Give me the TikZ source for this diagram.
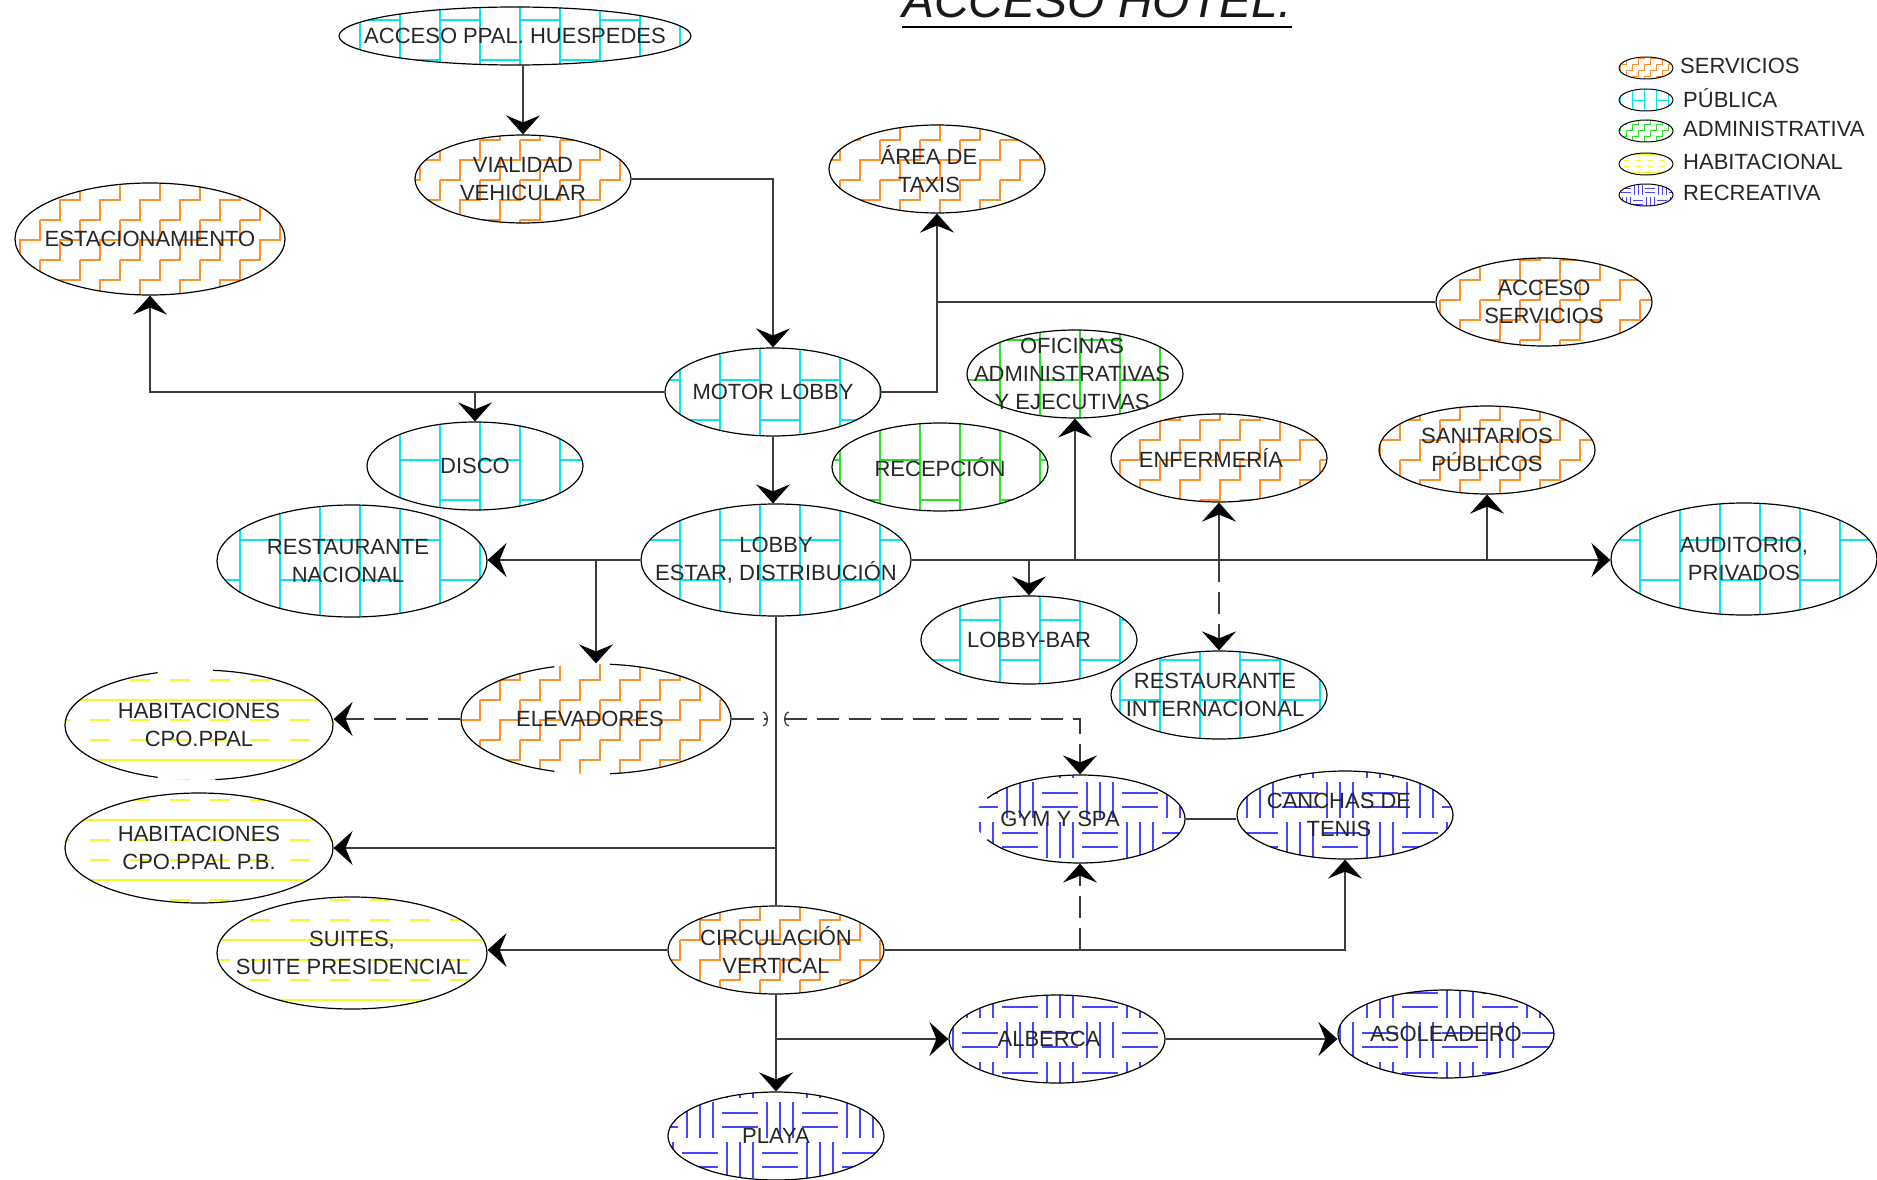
\documentclass[tikz,border=0pt]{standalone}
\usepackage{fontspec}
\setmainfont{Liberation Sans}
\usetikzlibrary{shapes.geometric, arrows.meta, patterns.meta}

\definecolor{cOr}{RGB}{255,145,40}
\definecolor{cCy}{RGB}{0,232,245}
\definecolor{cGr}{RGB}{40,225,40}
\definecolor{cYe}{RGB}{250,245,40}
\definecolor{cBl}{RGB}{70,70,255}
\definecolor{cLn}{RGB}{60,60,60}

\newcommand\mkpat[3]{%
\tikzdeclarepattern{name=stairs#1, type=uncolored,
  bounding box={(-1pt,-1pt) and (#2*40pt+1pt,#2*40pt+1pt)},
  tile size={(#2*40pt,#2*40pt)},
  code={\draw[line width=#3] (0pt,0pt) -- (#2*20pt,0pt) -- (#2*20pt,#2*20pt) -- (#2*40pt,#2*20pt) -- (#2*40pt,#2*40pt);}}%
\tikzdeclarepattern{name=bricks#1, type=uncolored,
  bounding box={(-1pt,-1pt) and (#2*80pt+1pt,#2*80pt+1pt)},
  tile size={(#2*80pt,#2*80pt)},
  code={\draw[line width=#3] (0pt,0pt) -- (0pt,#2*80pt) (#2*40pt,0pt) -- (#2*40pt,#2*80pt) (0pt,0pt) -- (#2*40pt,0pt) (#2*40pt,#2*40pt) -- (#2*80pt,#2*40pt);}}%
\tikzdeclarepattern{name=lines#1, type=uncolored,
  bounding box={(-1pt,-1pt) and (#2*40pt+1pt,#2*40pt+1pt)},
  tile size={(#2*40pt,#2*60pt)},
  code={\draw[line width=#3] (0pt,0pt) -- (#2*40pt,0pt) (#2*10pt,#2*20pt) -- (#2*30pt,#2*20pt) (#2*10pt,#2*40pt) -- (#2*30pt,#2*40pt);}}%
\tikzdeclarepattern{name=weave#1, type=uncolored,
  bounding box={(-1pt,-1pt) and (#2*80pt+1pt,#2*80pt+1pt)},
  tile size={(#2*80pt,#2*80pt)},
  code={\draw[line width=#3]
     (#2*7pt,#2*2pt) -- (#2*7pt,#2*38pt) (#2*20pt,#2*2pt) -- (#2*20pt,#2*38pt) (#2*33pt,#2*2pt) -- (#2*33pt,#2*38pt)
     (#2*47pt,#2*42pt) -- (#2*47pt,#2*78pt) (#2*60pt,#2*42pt) -- (#2*60pt,#2*78pt) (#2*73pt,#2*42pt) -- (#2*73pt,#2*78pt)
     (#2*42pt,#2*13pt) -- (#2*78pt,#2*13pt) (#2*42pt,#2*27pt) -- (#2*78pt,#2*27pt)
     (#2*2pt,#2*53pt) -- (#2*38pt,#2*53pt) (#2*2pt,#2*67pt) -- (#2*38pt,#2*67pt);}}%
}
\mkpat{B}{1}{1.3pt}
\mkpat{S}{0.3}{0.7pt}

\newcommand\zone[5][0]{%
  \node[#2] (#3) at #4 {};
  \node[lbl] (#3t) at ([xshift=#1pt]#3) {#5};}

\begin{document}
\begin{tikzpicture}[x=1pt,y=-1pt,
  zone/.style={ellipse, draw=black, line width=1.2pt, inner sep=0pt,
     minimum width=216pt, minimum height=88pt},
  big/.style={minimum width=270pt, minimum height=112pt},
  sv/.style={zone, pattern=stairsB, pattern color=cOr},
  pu/.style={zone, pattern=bricksB, pattern color=cCy},
  ad/.style={zone, pattern=bricksB, pattern color=cGr},
  hb/.style={zone, pattern=linesB, pattern color=cYe},
  rc/.style={zone, pattern=weaveB, pattern color=cBl},
  lbl/.style={align=center, inner sep=0pt, font=\fontsize{22}{28}\selectfont, text=black!85},
  cn/.style={draw=cLn, line width=1.3pt},
  tipb/.tip={Stealth[length=19pt,width=34pt,inset=7pt,black]},
  arr/.style={-tipb},
  dsh/.style={dash pattern=on 22pt off 10pt},
  lz/.style={ellipse, draw=black, line width=1pt, inner sep=0pt, minimum width=54pt, minimum height=22pt},
  lgt/.style={anchor=west, inner sep=0pt, font=\fontsize{22}{24}\selectfont, text=black!85},
  ol/.style={line width=1.2pt},
]
\useasboundingbox (0,0) rectangle (1877,1180);

% title
\node[font=\fontsize{48}{48}\selectfont\itshape, anchor=base, inner sep=0pt, text=black!90] (title) at (1097,18) {ACCESO HOTEL.};
\draw[line width=2.5pt] ([yshift=-9pt]title.base west) -- ([yshift=-9pt]title.base east);

% legend
\node[lz, pattern=stairsS, pattern color=cOr] (l1) at (1646,68) {};
\node[lgt] (l1t) at (1680,66) {SERVICIOS};
\node[lz, pattern=bricksS, pattern color=cCy] (l2) at (1646,100) {};
\node[lgt] (l2t) at (1683,98) {PÚBLICA};
\node[lz, pattern=stairsS, pattern color=cGr] (l3) at (1646,131) {};
\node[lgt] (l3t) at (1683,129) {ADMINISTRATIVA};
\node[lz, pattern=linesS, pattern color=cYe] (l4) at (1646,164) {};
\node[lgt] (l4t) at (1683,162) {HABITACIONAL};
\node[lz, pattern=weaveS, pattern color=cBl] (l5) at (1646,195) {};
\node[lgt] (l5t) at (1683,193) {RECREATIVA};

% zones
\node[pu, minimum width=352pt, minimum height=58pt] (acceso) at (515,36) {};
\node[lbl] (accesot) at (acceso) {ACCESO PPAL. HUESPEDES};
\zone{sv}{vial}{(523,179)}{VIALIDAD\\VEHICULAR}
\zone[-8]{sv}{taxis}{(937,169)}{ÁREA DE\\TAXIS}
\zone{sv,big}{estac}{(150,239)}{ESTACIONAMIENTO}
\zone{sv}{serv}{(1544,302)}{ACCESO\\SERVICIOS}
\zone{pu}{motor}{(773,392)}{MOTOR LOBBY}
\zone[-3]{ad}{ofic}{(1075,374)}{OFICINAS\\ADMINISTRATIVAS\\Y EJECUTIVAS}
\zone{pu}{disco}{(475,466)}{DISCO}
\zone{ad}{recep}{(940,467)}{RECEPCIÓN}
\zone[-8]{sv}{enferm}{(1219,458)}{ENFERMERÍA}
\zone{sv}{sanit}{(1487,450)}{SANITARIOS\\PÚBLICOS}
\zone[-4]{pu,big}{restnac}{(352,561)}{RESTAURANTE\\NACIONAL}
\zone{pu,big}{lobby}{(776,560)}{LOBBY\\ESTAR, DISTRIBUCIÓN}
\zone{pu,big,minimum width=266pt}{audit}{(1744,559)}{AUDITORIO,\\PRIVADOS}
\zone{pu}{lbar}{(1029,640)}{LOBBY-BAR}
\zone[-4]{pu}{restint}{(1219,695)}{RESTAURANTE\\INTERNACIONAL}
\zone{hb,big,draw=none,minimum width=268pt,minimum height=110pt}{hab}{(199,725)}{HABITACIONES\\CPO.PPAL}
\draw[ol] ([shift={(-83:134pt and 55pt)}]hab.center) arc[start angle=-83, end angle=84, x radius=134pt, y radius=55pt];
\draw[ol] ([shift={(108:134pt and 55pt)}]hab.center) arc[start angle=108, end angle=252, x radius=134pt, y radius=55pt];
\zone[-6]{sv,big,draw=none,minimum height=110pt}{elev}{(596,719)}{ELEVADORES}
\draw[ol] ([shift={(-84:135pt and 55pt)}]elev.center) arc[start angle=-84, end angle=84, x radius=135pt, y radius=55pt];
\draw[ol] ([shift={(108:135pt and 55pt)}]elev.center) arc[start angle=108, end angle=252, x radius=135pt, y radius=55pt];
\zone{hb,big,minimum width=268pt,minimum height=110pt}{habpb}{(199,848)}{HABITACIONES\\CPO.PPAL P.B.}
\zone[-20]{rc,draw=none,minimum width=210pt}{gym}{(1080,819)}{GYM Y SPA}
\draw[ol] ([shift={(-152:105pt and 44pt)}]gym.center) arc[start angle=-152, end angle=152, x radius=105pt, y radius=44pt];
\zone[-6]{rc}{canchas}{(1345,815)}{CANCHAS DE\\TENIS}
\zone{hb,big}{suites}{(352,953)}{SUITES,\\SUITE PRESIDENCIAL}
\zone{sv}{circ}{(776,950)}{CIRCULACIÓN\\VERTICAL}
\zone[-8]{rc}{alberca}{(1057,1039)}{ALBERCA}
\zone{rc}{asol}{(1446,1034)}{ASOLEADERO}
\zone{rc}{playa}{(776,1136)}{PLAYA}

% connectors
\draw[cn, arr] (acceso.south -| vial.north) -- (vial.north);
\draw[cn, arr] (vial.east) -| (motor.north);
\draw[cn, arr] (motor.east) -| (taxis.south);
\draw[cn] (serv.west) -- (serv.west -| taxis.south);
\draw[cn, arr] (motor.west) -| (estac.south);
\draw[cn, arr] (motor.west -| disco.north) -- (disco.north);
\draw[cn, arr] (motor.south) -- (motor.south |- lobby.north);
\draw[cn, arr] (lobby.west) -- (lobby.west -| restnac.east);
\draw[cn, arr] (lobby.west -| elev.north) -- (elev.north);
\draw[cn, arr] (lobby.east) -- (lobby.east -| audit.west);
\draw[cn, arr] (lobby.east -| lbar.north) -- (lbar.north);
\draw[cn, arr] (lobby.east -| ofic.south) -- (ofic.south);
\draw[cn, arr] (lobby.east -| sanit.south) -- (sanit.south);
\draw[cn, arr] (lobby.east -| enferm.south) -- (enferm.south);
\draw[cn, dsh, arr] (lobby.east -| restint.north) -- (restint.north);
\draw[cn] (lobby.south) -- (circ.north);
\draw[cn, dsh, arr] (elev.west) -- (elev.west -| hab.east);
\draw[cn, arr] (lobby.south |- habpb.east) -- (habpb.east);
\coordinate (jl) at ([xshift=-8pt]lobby.south |- elev.east);
\coordinate (jr) at ([xshift=8pt]lobby.south |- elev.east);
\draw[cn, dsh, -{Arc Barb[length=5pt,width=15pt]}] (elev.east) -- (jl);
\draw[cn, dsh, {Arc Barb[length=5pt,width=15pt]}-tipb] (jr) -| (gym.north);
\draw[cn, arr] (circ.west) -- (circ.west -| suites.east);
\draw[cn, arr] (circ.east) -| (canchas.south);
\draw[cn, dsh, arr] (circ.east -| gym.south) -- (gym.south);
\draw[cn] (gym.east) -- (gym.east -| canchas.west);
\draw[cn, arr] (circ.south) -- (playa.north);
\draw[cn, arr] (circ.south |- alberca.west) -- (alberca.west);
\draw[cn, arr] (alberca.east) -- (alberca.east -| asol.west);
\end{tikzpicture}
\end{document}
